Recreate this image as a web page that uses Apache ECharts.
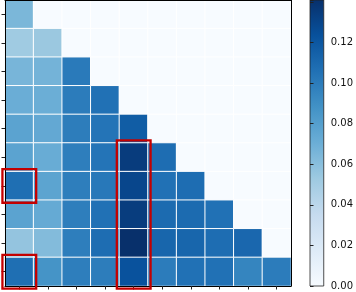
<!DOCTYPE html>
<html>
<head>
<meta charset="utf-8">
<script src="https://cdn.jsdelivr.net/npm/echarts@6/dist/echarts.min.js"></script>
<style>html,body{margin:0;padding:0;background:#fff}#c{width:356px;height:292px}</style>
</head>
<body>
<div id="c"></div>
<script>
// Rows of the lower-triangular matrix (top row first); upper cells read as 0.
const row1  = [0.065, 0, 0, 0, 0, 0, 0, 0, 0, 0];
const row2  = [0.052, 0.054, 0, 0, 0, 0, 0, 0, 0, 0];
const row3  = [0.066, 0.0675, 0.101, 0, 0, 0, 0, 0, 0, 0];
const row4  = [0.071, 0.0705, 0.100, 0.1055, 0, 0, 0, 0, 0, 0];
const row5  = [0.0775, 0.074, 0.0995, 0.104, 0.117, 0, 0, 0, 0, 0];
const row6  = [0.0775, 0.072, 0.0987, 0.104, 0.1346, 0.108, 0, 0, 0, 0];
const row7  = [0.107, 0.077, 0.099, 0.102, 0.1293, 0.1055, 0.108, 0, 0, 0];
const row8  = [0.0775, 0.073, 0.0987, 0.106, 0.134, 0.109, 0.109, 0.106, 0, 0];
const row9  = [0.0564, 0.0622, 0.099, 0.108, 0.141, 0.112, 0.112, 0.108, 0.111, 0];
const row10 = [0.107, 0.087, 0.099, 0.0995, 0.123, 0.100, 0.106, 0.1055, 0.095, 0.100];
const rows = [row1, row2, row3, row4, row5, row6, row7, row8, row9, row10];

const xCategories = ['1','2','3','4','5','6','7','8','9','10'];
const yCategories = ['1','2','3','4','5','6','7','8','9','10'];

const colorMin = 0;
const colorMax = 0.141;
const colorbarTicks = [0, 0.02, 0.04, 0.06, 0.08, 0.10, 0.12];

// Highlight boxes: [colStart, rowStart, colEnd, rowEnd] (0-based indices)
const highlights = [[0, 6, 0, 6], [0, 9, 0, 9], [4, 5, 4, 9]];

const blues = ['#f7fbff','#deebf7','#c6dbef','#9ecae1','#6baed6','#4292c6','#2171b5','#08519c','#08306b'];

const heatData = [];
rows.forEach((r, i) => r.forEach((v, j) => heatData.push([j, i, v])));

const chart = echarts.init(document.getElementById('c'), null, {renderer: 'canvas'});

const PAD = 0.09;
const option = {
  animation: false,
  backgroundColor: '#fff',
  grid: [
    {left: 5, top: 0, width: 286, height: 286},
    {left: 310, top: 0, width: 14, height: 286}
  ],
  xAxis: [
    {type: 'category', data: xCategories, gridIndex: 0, position: 'bottom', z: 5,
     axisLine: {show: true, lineStyle: {color: '#000', width: 1}},
     axisTick: {show: true, alignWithLabel: true, interval: 0, length: 3.5, lineStyle: {color: '#222', width: 1}},
     axisLabel: {show: false}, splitLine: {show: false}},
    {type: 'value', gridIndex: 1, min: 0, max: 1, show: false},
    {type: 'category', data: xCategories, gridIndex: 0, position: 'top', z: 5,
     axisLine: {show: true, lineStyle: {color: '#000', width: 1}},
     axisTick: {show: false}, axisLabel: {show: false}, splitLine: {show: false}}
  ],
  yAxis: [
    {type: 'category', data: yCategories, gridIndex: 0, inverse: true, position: 'left', z: 5,
     axisLine: {show: true, lineStyle: {color: '#000', width: 1}},
     axisTick: {show: true, alignWithLabel: true, interval: 0, length: 3.5, lineStyle: {color: '#222', width: 1}},
     axisLabel: {show: false}, splitLine: {show: false}},
    {type: 'category', data: yCategories, gridIndex: 0, inverse: true, position: 'right', z: 5,
     axisLine: {show: true, lineStyle: {color: '#000', width: 1}},
     axisTick: {show: false}, axisLabel: {show: false}, splitLine: {show: false}},
    {type: 'value', gridIndex: 1, min: colorMin, max: colorMax, interval: 0.02, position: 'right', z: 5,
     axisLine: {show: false},
     axisTick: {show: true, length: 3.5, lineStyle: {color: '#222', width: 1}},
     axisLabel: {show: true, margin: 7, fontFamily: 'DejaVu Sans', fontSize: 10, color: '#111',
       formatter: v => colorbarTicks.some(t => Math.abs(t - v) < 1e-9) ? v.toFixed(2) : ''},
     splitLine: {show: false}}
  ],
  visualMap: {
    show: false, type: 'continuous', min: colorMin, max: colorMax, seriesIndex: 0, dimension: 2,
    inRange: {color: blues}
  },
  series: [
    {type: 'heatmap', xAxisIndex: 0, yAxisIndex: 0, data: heatData,
     itemStyle: {borderColor: '#ffffff', borderWidth: 1}, emphasis: {disabled: true}},
    {type: 'custom', xAxisIndex: 0, yAxisIndex: 0, z: 10, clip: false, data: highlights,
     renderItem: function (params, api) {
       const a = api.coord([api.value(0), api.value(1)]);
       const b = api.coord([api.value(2), api.value(3)]);
       const s = api.size([1, 1]);
       const x0 = Math.min(a[0], b[0]) - s[0] * (0.5 + PAD);
       const x1 = Math.max(a[0], b[0]) + s[0] * (0.5 + PAD);
       const y0 = Math.min(a[1], b[1]) - s[1] * (0.5 + PAD);
       const y1 = Math.max(a[1], b[1]) + s[1] * (0.5 + PAD);
       return {type: 'rect', shape: {x: x0, y: y0, width: x1 - x0, height: y1 - y0},
         style: {fill: 'none', stroke: '#c40000', lineWidth: 2.3}};
     }},
    {type: 'custom', xAxisIndex: 1, yAxisIndex: 2, z: 3, clip: false, data: [[colorMin, colorMax]],
     renderItem: function (params, api) {
       const p0 = api.coord([0, api.value(0)]);
       const p1 = api.coord([1, api.value(1)]);
       const stops = blues.map((c, i) => ({offset: i / (blues.length - 1), color: c}));
       return {type: 'rect',
         shape: {x: p0[0], y: p1[1], width: p1[0] - p0[0], height: p0[1] - p1[1]},
         style: {fill: new echarts.graphic.LinearGradient(0, 1, 0, 0, stops), stroke: '#222', lineWidth: 0.8}};
     }}
  ]
};
chart.setOption(option);
</script>
</body>
</html>
